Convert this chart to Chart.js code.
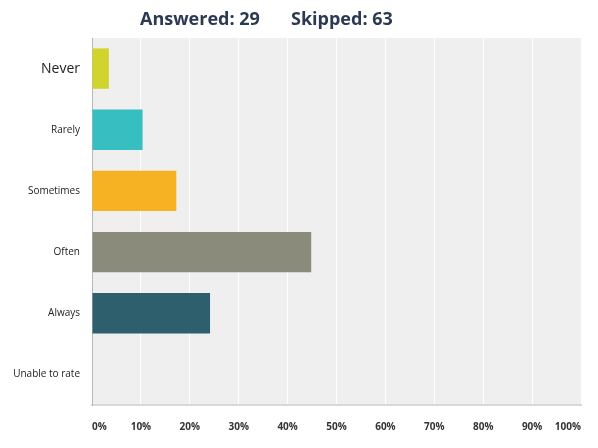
<!DOCTYPE html>
<html>
<head>
<meta charset="utf-8">
<script src="https://cdn.jsdelivr.net/npm/chart.js@4"></script>
<style>
  html, body { margin: 0; padding: 0; background: #fff; }
  #wrap { width: 598px; height: 448px; }
</style>
</head>
<body>
<div id="wrap"><canvas id="chart"></canvas></div>
<script>
"use strict";

const categories = ["Never", "Rarely", "Sometimes", "Often", "Always", "Unable to rate"];
const percentValues = [3.45, 10.34, 17.24, 44.83, 24.14, 0];
const barColors = ["#d0d42c", "#36bec0", "#f6b222", "#8a8b7a", "#2e5f6c", "#9a9a9a"];
const tickValues = [0, 10, 20, 30, 40, 50, 60, 70, 80, 90, 100];
const headerParts = ["Answered: 29", "Skipped: 63"];

const plotBackground = {
  id: "plotBackground",
  beforeDraw(chart) {
    const { ctx, chartArea } = chart;
    ctx.save();
    ctx.fillStyle = "#efefef";
    ctx.fillRect(chartArea.left, chartArea.top, chartArea.right - chartArea.left, chartArea.bottom - chartArea.top);
    ctx.restore();
  },
};

const header = {
  id: "header",
  afterDraw(chart) {
    const ctx = chart.ctx;
    ctx.save();
    ctx.font = "bold 18px 'Open Sans'";
    ctx.fillStyle = "#2b3a52";
    ctx.textBaseline = "alphabetic";
    ctx.fillText(headerParts[0], 140, 25);
    ctx.fillText(headerParts[1], 291, 25);
    ctx.restore();
  },
};

const chartCanvas = document.getElementById("chart");

new Chart(chartCanvas, {
  type: "bar",
  data: {
    labels: categories,
    datasets: [
      {
        label: "Responses",
        data: percentValues,
        backgroundColor: barColors,
        borderWidth: 0,
        categoryPercentage: 1,
        barPercentage: 0.66,
      },
    ],
  },
  options: {
    indexAxis: "y",
    responsive: true,
    maintainAspectRatio: false,
    animation: false,
    layout: { padding: { top: 38, right: 17, left: 0, bottom: 0 } },
    plugins: {
      legend: { display: false },
      tooltip: { enabled: false },
    },
    scales: {
      x: {
        min: 0,
        max: 100,
        afterBuildTicks(scale) {
          scale.ticks = tickValues.map((v) => ({ value: v }));
        },
        afterFit(scale) {
          scale.height = 43;
        },
        grid: { color: "#ffffff", lineWidth: 1, drawTicks: false },
        border: { color: "#d9d9d9", width: 2 },
        ticks: {
          padding: 16,
          align: "inner",
          maxRotation: 0,
          autoSkip: false,
          color: "#333333",
          font: { family: "'Open Sans'", size: 10, weight: "bold" },
          callback: (value) => value + "%",
        },
      },
      y: {
        afterFit(scale) {
          scale.width = 92;
        },
        grid: { display: false, drawTicks: false },
        border: { color: "#b8b8b8", width: 1 },
        ticks: {
          padding: 12,
          color: "#222222",
          font: (ctx) => ({ family: "'Open Sans'", size: ctx.index === 0 ? 14 : 10 }),
        },
      },
    },
  },
  plugins: [plotBackground, header],
});
</script>
</body>
</html>
